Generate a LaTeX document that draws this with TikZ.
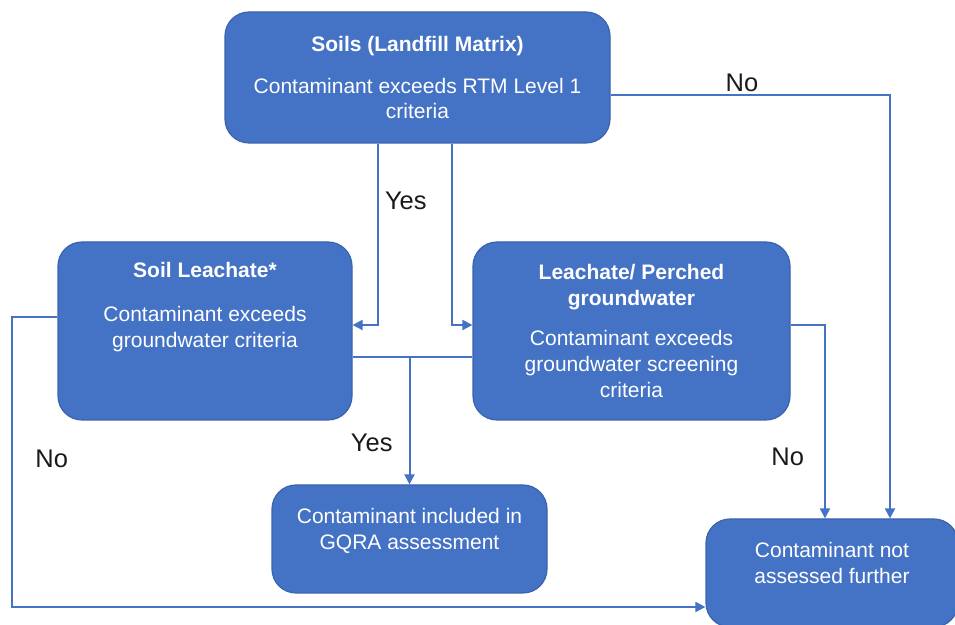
\documentclass[tikz,border=0pt]{standalone}
\usepackage{fontspec}
\setmainfont{Liberation Sans}
\usetikzlibrary{arrows.meta,positioning}
\definecolor{boxblue}{HTML}{4472C4}
\definecolor{boxedge}{HTML}{3A64AE}
\definecolor{answergrey}{HTML}{1A1A1A}

\begin{document}
\begin{tikzpicture}[x=0.5pt, y=-0.5pt,
    box/.style={rectangle, rounded corners=12pt, fill=boxblue, draw=boxedge, line width=0.6pt,
        text=white, align=center, inner sep=0pt, font=\fontsize{10.5}{13}\selectfont},
    link/.style={draw=boxblue, line width=1pt},
    arr/.style={-{Triangle[length=5pt,width=5pt]}},
    answer/.style={text=answergrey, inner sep=1pt, font=\fontsize{12.75}{15}\selectfont}]
    \path[use as bounding box, clip] (0,0) rectangle (955,625);

    % boxes
    \node[box, minimum width=192.5pt, minimum height=65.5pt] (soils) at (417.5,77.5)
        {\textbf{Soils (Landfill Matrix)}\\[8pt]Contaminant exceeds RTM Level 1\\criteria};
    \node[box, minimum width=147pt, minimum height=89pt] (leach) at (205,331)
        {\textbf{Soil Leachate*}\\[9pt]Contaminant exceeds\\groundwater criteria\\[13.5pt]~};
    \node[box, minimum width=158.5pt, minimum height=89pt] (perched) at (631.5,331)
        {\textbf{Leachate/ Perched}\\\textbf{groundwater}\\[7pt]Contaminant exceeds\\groundwater screening\\criteria};
    \node[box, minimum width=137.5pt, minimum height=54pt] (gqra) at (409.5,539)
        {Contaminant included in\\GQRA assessment\\[-2.5pt]~};
    \node[box, minimum width=126pt, minimum height=54pt] (nofurther) at (832,573)
        {Contaminant not\\assessed further\\[-2.5pt]~};

    % connectors
    \draw[link, arr] ([yshift=-8.75pt]soils.east) -| ([xshift=29pt]nofurther.north)
        node[answer, pos=0.235, above] {No};
    \draw[link, arr] ([xshift=-19.75pt]soils.south) |- ([yshift=3pt]leach.east)
        node[answer, pos=0.157, right=2pt] {Yes};
    \draw[link, arr] ([xshift=17.25pt]soils.south) |- ([yshift=3pt]perched.west);
    \draw[link] ([yshift=-13pt]leach.east) coordinate (meet) -- ([yshift=-13pt]perched.west);
    \draw[link, arr] (gqra.north |- meet) -- (gqra.north)
        node[answer, pos=0.67, left=7pt] {Yes};
    \draw[link, arr] ([yshift=3pt]perched.east) -| ([xshift=-3.5pt]nofurther.north)
        node[answer, pos=0.84, left=9pt] {No};
    \draw[link, arr] ([yshift=7pt]leach.west) -- ++(-22.5pt,0) |- ([yshift=-17pt]nofurther.west)
        node[answer, pos=0.245, right=10pt] {No};
\end{tikzpicture}
\end{document}
